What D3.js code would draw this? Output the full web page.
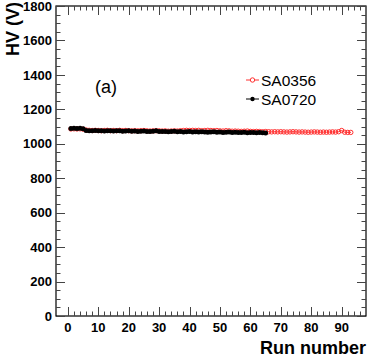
<!DOCTYPE html>
<html>
<head>
<meta charset="utf-8">
<script src="https://cdn.jsdelivr.net/npm/d3@7"></script>
<style>
  body { margin: 0; background: #fff; }
  text { font-family: "Liberation Sans", Arial, sans-serif; }
</style>
</head>
<body>
<div id="chart"></div>
<script>
// HV per run for the two sensors
const hv0720 = [
  1088,1090,1089,1090,1087,1077,1076,1075,1077,1076,
  1075,1074,1076,1075,1074,1075,1076,1073,1074,1075,
  1073,1074,1072,1073,1074,1072,1071,1073,1075,1072,
  1071,1072,1070,1071,1073,1070,1071,1069,1070,1072,
  1069,1070,1068,1070,1069,1067,1068,1070,1067,1068,
  1066,1067,1069,1066,1067,1065,1066,1067,1064,1066,
  1065,1064,1066,1064,1063
];
const hv0356 = [
  1086,1087,1086,1087,1085,1080,1078,1077,1078,1077,
  1076,1077,1078,1076,1077,1076,1078,1076,1077,1076,
  1075,1076,1075,1076,1077,1075,1074,1075,1076,1075,
  1074,1075,1073,1074,1075,1074,1076,1077,1078,1077,
  1078,1077,1078,1076,1077,1078,1077,1076,1077,1075,
  1074,1076,1075,1073,1074,1073,1072,1073,1074,1072,
  1071,1072,1071,1070,1071,1070,1069,1070,1069,1070,
  1069,1068,1069,1070,1069,1068,1069,1068,1067,1068,
  1069,1068,1067,1068,1067,1068,1069,1068,1070,1077,
  1067,1066,1066
];
const xTicks = [0, 10, 20, 30, 40, 50, 60, 70, 80, 90];
const yTicks = [0, 200, 400, 600, 800, 1000, 1200, 1400, 1600, 1800];
const seriesNames = ['SA0356', 'SA0720'];

const width = 374, height = 361;
const frame = { left: 56, right: 366, top: 6, bottom: 316 };

const svg = d3.select('#chart')
              .append('svg')
              .attr('width', width)
              .attr('height', height);

const x = d3.scaleLinear().domain([-3.9, 98]).range([frame.left, frame.right]);
const y = d3.scaleLinear().domain([0, 1800]).range([frame.bottom, frame.top]);

// frame
svg.append('rect')
   .attr('x', frame.left).attr('y', frame.top)
   .attr('width', frame.right - frame.left)
   .attr('height', frame.bottom - frame.top)
   .attr('fill', 'none')
   .attr('stroke', '#000')
   .attr('stroke-width', 1.2);

// ticks, ROOT style: inward on all four sides
const xMinor = d3.range(0, 98, 2);
const yMinor = d3.range(0, 1801, 50);
const ticks = svg.append('g').attr('stroke', '#444').attr('stroke-width', 1);

xMinor.forEach(v => {
  const len = v % 10 === 0 ? 9 : 4.5;
  const px = Math.round(x(v)) + 0.5;
  ticks.append('line').attr('x1', px).attr('x2', px)
       .attr('y1', frame.bottom).attr('y2', frame.bottom - len);
  ticks.append('line').attr('x1', px).attr('x2', px)
       .attr('y1', frame.top).attr('y2', frame.top + len);
});
yMinor.forEach(v => {
  const len = v % 200 === 0 ? 9 : 4.5;
  const py = Math.round(y(v)) + 0.5;
  ticks.append('line').attr('y1', py).attr('y2', py)
       .attr('x1', frame.left).attr('x2', frame.left + len);
  ticks.append('line').attr('y1', py).attr('y2', py)
       .attr('x1', frame.right).attr('x2', frame.right - len);
});

// tick labels
svg.append('g').selectAll('text')
   .data(xTicks).enter().append('text')
   .attr('x', d => x(d))
   .attr('y', 332)
   .attr('text-anchor', 'middle')
   .attr('font-size', 13)
   .attr('font-weight', 'bold')
   .text(d => d);

svg.append('g').selectAll('text')
   .data(yTicks).enter().append('text')
   .attr('x', 52)
   .attr('y', d => y(d))
   .attr('dy', '0.36em')
   .attr('text-anchor', 'end')
   .attr('font-size', 13)
   .attr('font-weight', 'bold')
   .text(d => d);

// axis titles
svg.append('text')
   .attr('x', frame.right)
   .attr('y', 354)
   .attr('text-anchor', 'end')
   .attr('font-size', 18)
   .attr('font-weight', 'bold')
   .text('Run number');

svg.append('text')
   .attr('transform', `translate(19, ${frame.top - 4}) rotate(-90)`)
   .attr('text-anchor', 'end')
   .attr('font-size', 18)
   .attr('font-weight', 'bold')
   .text('HV (V)');

// series
const line = d3.line().x((d, i) => x(i + 1)).y(d => y(d));

svg.append('path')
   .datum(hv0356)
   .attr('d', line)
   .attr('fill', 'none')
   .attr('stroke', '#ff3030')
   .attr('stroke-width', 1);

svg.append('g').selectAll('circle')
   .data(hv0356).enter().append('circle')
   .attr('cx', (d, i) => x(i + 1))
   .attr('cy', d => y(d))
   .attr('r', 2.2)
   .attr('fill', 'none')
   .attr('stroke', '#ff3030')
   .attr('stroke-width', 1);

svg.append('path')
   .datum(hv0720)
   .attr('d', line)
   .attr('fill', 'none')
   .attr('stroke', '#000')
   .attr('stroke-width', 1.5);

svg.append('g').selectAll('circle')
   .data(hv0720).enter().append('circle')
   .attr('cx', (d, i) => x(i + 1))
   .attr('cy', d => y(d))
   .attr('r', 2.5)
   .attr('fill', '#000');

// label
svg.append('text')
   .attr('x', 95)
   .attr('y', 93)
   .attr('font-size', 18)
   .text('(a)');

// legend
const legend = svg.append('g');
const legendColors = ['#ff3030', '#000'];
seriesNames.forEach((name, i) => {
  const ly = 80 + i * 19;
  legend.append('line')
        .attr('x1', 246).attr('x2', 259)
        .attr('y1', ly).attr('y2', ly)
        .attr('stroke', legendColors[i])
        .attr('stroke-width', 1);
  const c = legend.append('circle')
        .attr('cx', 252.5).attr('cy', ly).attr('r', 2.2);
  if (i === 0) {
    c.attr('fill', '#fff').attr('stroke', legendColors[i]);
  } else {
    c.attr('fill', '#000');
  }
  legend.append('text')
        .attr('x', 261)
        .attr('y', ly)
        .attr('dy', '0.36em')
        .attr('font-size', 15.5)
        .text(name);
});
</script>
</body>
</html>
